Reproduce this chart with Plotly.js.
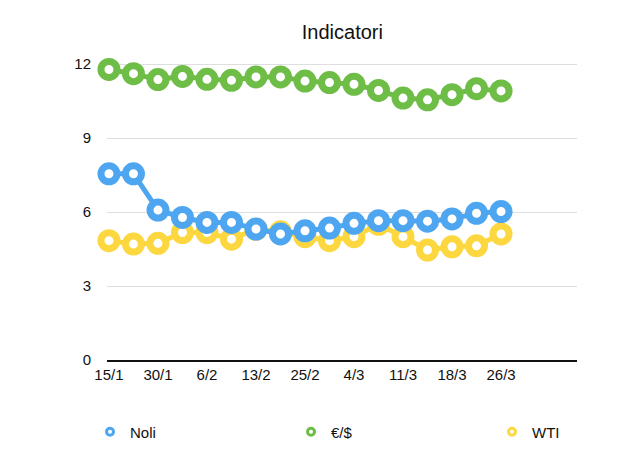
<!DOCTYPE html>
<html>
<head>
<meta charset="utf-8">
<script src="https://cdn.plot.ly/plotly-3.0.1.min.js"></script>
<style>
  html, body { margin: 0; padding: 0; background: #fff; }
  #chart { width: 640px; height: 470px; }
</style>
</head>
<body>
<div id="chart"></div>
<script>
// etichette dell'asse x (una ogni due punti)
var tickLabels = ['15/1', '30/1', '6/2', '13/2', '25/2', '4/3', '11/3', '18/3', '26/3'];

// valori
var noli = [7.55, 7.55, 6.08, 5.78, 5.58, 5.58, 5.31, 5.11, 5.24, 5.35, 5.54, 5.65, 5.65, 5.63, 5.72, 5.95, 6.02];
var euroDollaro = [11.78, 11.61, 11.37, 11.5, 11.38, 11.34, 11.48, 11.48, 11.31, 11.25, 11.18, 10.93, 10.62, 10.55, 10.76, 11.0, 10.91];
var wti = [4.84, 4.7, 4.73, 5.17, 5.17, 4.9, 5.3, 5.2, 5.0, 4.84, 5.0, 5.5, 5.0, 4.46, 4.59, 4.63, 5.11];

var seriesNames = ['Noli', '€/$', 'WTI'];
var seriesColors = ['#4ea6f1', '#6dbd46', '#fcd73f'];

var idx = noli.map(function (_, i) { return i; });
var tickVals = tickLabels.map(function (_, i) { return i * 2; });

function serie(values, color) {
  return {
    x: idx, y: values, type: 'scatter', mode: 'lines+markers',
    showlegend: false, cliponaxis: false, hoverinfo: 'skip',
    line: { color: color, width: 5 },
    marker: { symbol: 'circle', size: 16, color: '#ffffff', line: { color: color, width: 7 } }
  };
}

// ogni voce di legenda ha una legenda propria, per distanziarle come nell'originale
function voceLegenda(name, color, legendId) {
  return {
    x: [null], y: [null], type: 'scatter', mode: 'markers', name: name, legend: legendId,
    marker: { symbol: 'circle', size: 7, color: '#ffffff', line: { color: color, width: 3 } }
  };
}

// ordine di disegno: WTI sotto, Noli sopra
var data = [
  serie(wti, seriesColors[2]),
  serie(euroDollaro, seriesColors[1]),
  serie(noli, seriesColors[0]),
  voceLegenda(seriesNames[0], seriesColors[0], 'legend'),
  voceLegenda(seriesNames[1], seriesColors[1], 'legend2'),
  voceLegenda(seriesNames[2], seriesColors[2], 'legend3')
];

function legenda(xPix) {
  return {
    xref: 'container', yref: 'container',
    x: xPix / 640, xanchor: 'left', y: 1 - 432 / 470, yanchor: 'middle',
    itemwidth: 30, font: { size: 15 }, bgcolor: 'rgba(0,0,0,0)'
  };
}

var layout = {
  width: 640, height: 470,
  margin: { l: 107, r: 63, t: 50, b: 110, autoexpand: false },
  paper_bgcolor: '#ffffff', plot_bgcolor: '#ffffff',
  font: { family: 'Liberation Sans, Arial, sans-serif', size: 14, color: '#111' },
  title: { text: 'Indicatori', x: 0.535, xanchor: 'center', y: 0.932, yanchor: 'middle', font: { size: 20, color: '#111' } },
  xaxis: {
    range: [-0.08, 19.1], showgrid: false, zeroline: false,
    showline: true, linecolor: '#111', linewidth: 2,
    tickmode: 'array', tickvals: tickVals, ticktext: tickLabels, tickangle: 0,
    ticks: '', tickfont: { size: 15 }, fixedrange: true
  },
  yaxis: {
    range: [0, 12.57], tickvals: [0, 3, 6, 9, 12], ticks: '',
    showgrid: true, gridcolor: '#dedede', gridwidth: 1,
    zeroline: false, showline: false, ticklabelstandoff: 15,
    tickfont: { size: 15 }, fixedrange: true
  },
  legend: legenda(90),
  legend2: legenda(291),
  legend3: legenda(492),
  showlegend: true
};

Plotly.newPlot('chart', data, layout, { displayModeBar: false, staticPlot: true });
</script>
</body>
</html>
